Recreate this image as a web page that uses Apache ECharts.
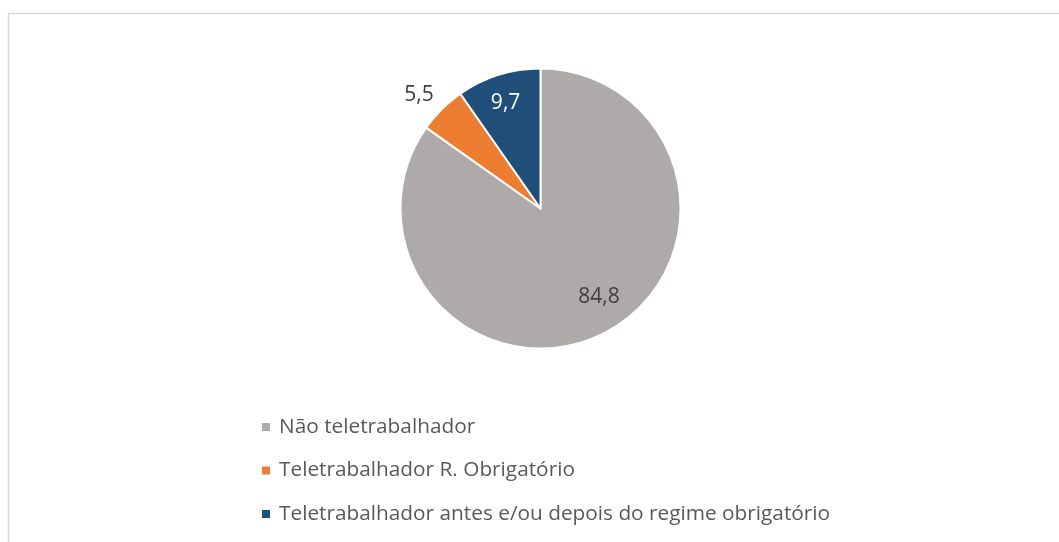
<!DOCTYPE html>
<html>
<head>
<meta charset="utf-8">
<script src="https://cdn.jsdelivr.net/npm/echarts@6/dist/echarts.min.js"></script>
<style>
  html, body { margin: 0; padding: 0; background: #fff; }
  #chart { width: 1059px; height: 542px; }
</style>
</head>
<body>
<div id="chart"></div>
<script>
// categorias e valores (%)
const categories = [
    'Não teletrabalhador',
    'Teletrabalhador R. Obrigatório',
    'Teletrabalhador antes e/ou depois do regime obrigatório'
];
const values = [84.8, 5.5, 9.7];
const colors = ['#AEAAAA', '#ED7D31', '#1F4E79'];
const labelColors = ['#404040', '#404040', '#ffffff'];

// deslocamento dos rótulos relativamente à posição "inside"
const labelShift = [[25, 24], [-70, -62], [-13, -36]];

const chart = echarts.init(document.getElementById('chart'));

const option = {
    animation: false,
    textStyle: { fontFamily: 'Open Sans' },
    graphic: [
        {
            type: 'rect',
            shape: { x: 8.5, y: 13.5, width: 1100, height: 600 },
            style: { fill: 'none', stroke: '#d9d9d9', lineWidth: 1.5 },
            silent: true
        }
    ],
    legend: {
        orient: 'vertical',
        left: 255,
        top: 410,
        itemWidth: 10,
        itemHeight: 10,
        itemGap: 19.5,
        icon: 'rect',
        data: categories,
        textStyle: {
            fontFamily: 'Open Sans',
            fontSize: 20.8,
            lineHeight: 24,
            color: '#595959',
            padding: [0, 0, 0, 3]
        }
    },
    series: [
        {
            type: 'pie',
            center: [540.5, 208.5],
            radius: 140,
            startAngle: 90,
            clockwise: true,
            avoidLabelOverlap: false,
            itemStyle: { borderColor: '#ffffff', borderWidth: 2 },
            label: {
                show: true,
                position: 'inside',
                fontFamily: 'Open Sans',
                fontSize: 21,
                formatter: p => String(p.value).replace('.', ',')
            },
            labelLine: { show: false },
            labelLayout: p => ({ dx: labelShift[p.dataIndex][0], dy: labelShift[p.dataIndex][1] }),
            emphasis: { disabled: true },
            data: categories.map((name, i) => ({
                name: name,
                value: values[i],
                itemStyle: { color: colors[i] },
                label: { color: labelColors[i] }
            }))
        }
    ]
};

chart.setOption(option);
</script>
</body>
</html>
